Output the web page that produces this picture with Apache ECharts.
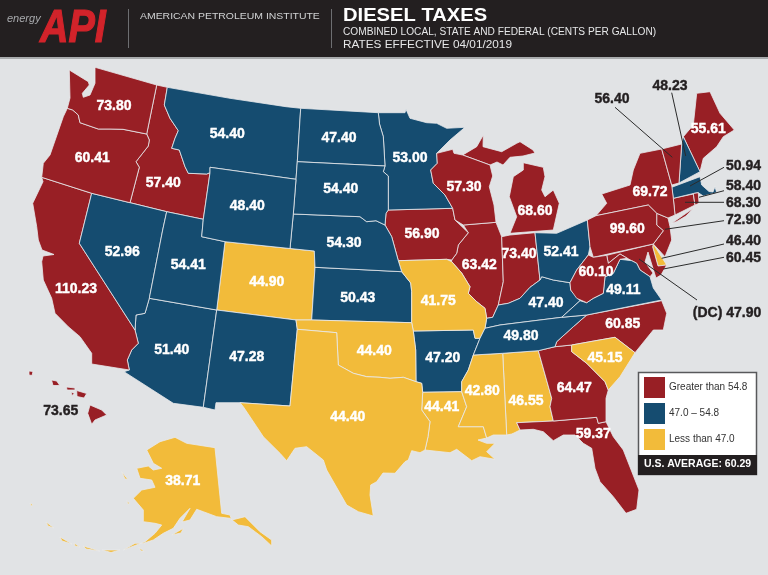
<!DOCTYPE html>
<html>
<head>
    <meta http-equiv="Content-Type" content="text/html; charset=UTF-8" />
    <title>Diesel Taxes</title>
    <script src="https://cdn.jsdelivr.net/npm/echarts@6/dist/echarts.min.js"></script>
    <style>
        html, body { margin: 0; padding: 0; background: #e1e3e5; }
        #main { width: 768px; height: 575px; }
    </style>
</head>
<body>
<div id="main"></div>
<script type="text/javascript">
    // cents per gallon
    var stateNames = ['Alabama','Alaska','Arizona','Arkansas','California','Colorado','Connecticut','Delaware','DC','Florida','Georgia','Hawaii','Idaho','Illinois','Indiana','Iowa','Kansas','Kentucky','Louisiana','Maine','Maryland','Massachusetts','Michigan','Minnesota','Mississippi','Missouri','Montana','Nebraska','Nevada','New Hampshire','New Jersey','New Mexico','New York','North Carolina','North Dakota','Ohio','Oklahoma','Oregon','Pennsylvania','Rhode Island','South Carolina','South Dakota','Tennessee','Texas','Utah','Vermont','Virginia','Washington','West Virginia','Wisconsin','Wyoming'];
    var dieselTax = [46.55,38.71,51.40,47.20,110.23,44.90,68.30,46.40,47.90,59.37,64.47,73.65,57.40,63.42,73.40,56.90,50.43,47.40,44.41,55.61,60.45,50.94,68.60,53.00,42.80,41.75,54.40,54.30,52.96,48.23,72.90,47.28,69.72,60.85,47.40,52.41,44.40,60.41,99.60,58.40,45.15,54.40,49.80,44.40,54.41,56.40,49.11,73.80,60.10,57.30,48.40];
    var outsideLabels = ['Hawaii','Vermont','New Hampshire','Massachusetts','Rhode Island','Connecticut','New Jersey','Delaware','Maryland','DC'];
    var legendLabels = ['Greater than 54.8', '47.0 – 54.8', 'Less than 47.0'];
    var legendBreaks = [47.0, 54.8];
    var usAverage = 60.29;

    var RED = '#981f25', BLUE = '#154c70', YELLOW = '#f2bb3a', INK = '#231f20';
    var FONT = 'Liberation Sans';

    // hand traced state outlines, in page pixels (drawn with an identity projection)
    var shapes = {
        'Washington': {cp:[114,106], rings:[[[69.3,70],[88.3,81.7],[89.3,85],[82.3,93.3],[83.3,97.3],[90,95],[95,83.3],[95,67.3],[156.7,85],[146.7,134],[123,129.3],[110,129],[98.3,129],[80,122.7],[78.3,115],[72.7,110],[67.3,108.3],[70,98]]]},
        'Oregon': {cp:[92.3,157.7], rings:[[[67.3,108.3],[72.7,110],[78.3,115],[80,122.7],[98.3,129],[110,129],[123,129.3],[146.7,134],[149.3,140],[148.3,146],[136,161.7],[139.3,167.3],[130,202.7],[91.7,193.3],[41.7,177.3],[43.3,163.3],[50,155],[63.3,116.7]]]},
        'Idaho': {cp:[163.3,183.3], rings:[[[156.7,85],[167.3,87.3],[164.3,105],[170,118.3],[178.3,130.7],[175,138.3],[171.7,148.3],[179.3,150],[185,166.7],[188.3,173.3],[206.7,174],[210,172.7],[203.3,219.3],[166.7,211.7],[130,202.7],[139.3,167.3],[136,161.7],[148.3,146],[149.3,140],[146.7,134]]]},
        'Montana': {cp:[227.3,134], rings:[[[167.3,87.3],[230,98.3],[286,106.7],[300.7,108.3],[297.3,161.7],[296,179.3],[210,167.3],[210,172.7],[206.7,174],[188.3,173.3],[185,166.7],[179.3,150],[171.7,148.3],[175,138.3],[178.3,130.7],[170,118.3],[164.3,105]]]},
        'Wyoming': {cp:[247.3,205.7], rings:[[[210,167.3],[296,179.3],[293.3,214],[290,248.5],[225,241.7],[201.7,236.7],[203.3,219.3],[210,172.7]]]},
        'North Dakota': {cp:[339,137.7], rings:[[[300.7,108.3],[378.3,112.7],[379.5,124],[383.3,136.7],[385,166],[297.3,161.7]]]},
        'South Dakota': {cp:[340.7,189], rings:[[[297.3,161.7],[385,166],[383.3,171.7],[388.3,176],[388.3,210],[386,213.3],[385,225],[376,220.7],[366.7,221.7],[360,216.7],[293.3,214],[296,179.3]]]},
        'Nebraska': {cp:[344,242.7], rings:[[[293.3,214],[360,216.7],[366.7,221.7],[376,220.7],[385,225],[391.7,236.7],[398.3,260.7],[401.7,271.7],[315,267.3],[314.3,251],[290,248.5]]]},
        'Minnesota': {cp:[410,158.3], rings:[[[378.3,112.7],[405,112.7],[406,109.3],[410,118.3],[426.7,122.7],[436.7,123.3],[446.7,128.3],[465,127.3],[450,140],[436.7,153.3],[437.3,163.3],[430.7,170],[433.3,183.3],[445,195],[452.7,208.3],[388.3,210],[388.3,176],[383.3,171.7],[385,166],[383.3,136.7],[379.5,124]]]},
        'Wisconsin': {cp:[464,186.7], rings:[[[436.7,153.3],[452.7,149.3],[454,153.3],[462.7,155],[490,165],[492.7,176],[489.3,186.7],[494,205],[496,222.3],[463.3,225],[455,220],[452.7,208.3],[445,195],[433.3,183.3],[430.7,170],[437.3,163.3]]]},
        'Michigan': {cp:[535,210.7], rings:[[[462.7,155],[476.7,146.7],[483.3,135],[483,146.7],[501.7,151.7],[516.7,143.3],[520,141.7],[533,150],[535,153],[523,156],[510,157.3],[503,165],[497,162],[490,165]],[[523.3,162.7],[543.3,167.3],[545,176.7],[541.7,190],[545,196.7],[553.3,190],[559.3,203.3],[553.3,230],[510,233.3],[516.7,216.7],[509.3,196.7],[513.3,176.7],[523.3,170]]]},
        'Iowa': {cp:[422,234], rings:[[[386,213.3],[388.3,210],[452.7,208.3],[455,220],[468.3,232.7],[458.3,245],[456.7,253.3],[451.7,260],[446.7,259.3],[398.3,260.7],[391.7,236.7],[385,225]]]},
        'Illinois': {cp:[479.3,265], rings:[[[463.3,225],[496,222.3],[501.7,236.7],[503.3,281.7],[498.3,305],[492.7,317.3],[486.7,318.3],[485,308.3],[476.7,301.7],[468.3,293.3],[470,286.7],[461.7,273],[451.7,261.7],[451.7,260],[456.7,253.3],[458.3,245],[468.3,232.7]]]},
        'Indiana': {cp:[519,254.3], rings:[[[501.7,236.7],[510,235],[535,232.7],[540,280],[530,287.3],[520,298.3],[508.3,303.3],[498.3,305],[503.3,281.7]]]},
        'Ohio': {cp:[561,251.7], rings:[[[535,232.7],[556.7,233.3],[587.3,220],[590,246.7],[588.3,255],[576.7,270],[570,282.7],[553.3,280],[541.7,276.7],[540,280]]]},
        'Pennsylvania': {cp:[627.3,229.3], rings:[[[587.3,220],[596,215.7],[648.3,205],[656.7,213.3],[656.7,225],[663.3,230.7],[653.3,244],[593.3,257.3],[590,246.7]]]},
        'New York': {cp:[650,191.7], rings:[[[596,215.7],[606.7,203.3],[601.7,194],[630,185],[633.3,170],[640,153.3],[661.7,149],[671.7,185],[673.3,198.3],[675,215],[668,218],[656.7,213.3],[648.3,205]],[[671.7,223.3],[693.3,208.3],[686,216],[676.7,221.5]]]},
        'Vermont': {cp:[612,99.5], rings:[[[661.7,149],[681.7,144],[679,183],[671.7,185]]]},
        'New Hampshire': {cp:[670,86], rings:[[[683.3,136.7],[700,171.7],[679,183],[681.7,144]]]},
        'Maine': {cp:[708.3,129.3], rings:[[[683.3,136.7],[693.3,125],[696.7,93.3],[710,91.7],[720,113.3],[734.3,130],[723.3,136.7],[716.7,146.7],[703.3,158.3],[700,171.7]]]},
        'Massachusetts': {cp:[743.5,166], rings:[[[671.7,187.3],[700,176.7],[701.7,185],[709,191.5],[713,192],[715,186.7],[716.7,192.7],[703.3,196],[698.3,192.7],[693.3,193.5],[673.3,198.3]]]},
        'Connecticut': {cp:[743.5,203], rings:[[[673.3,198.3],[693.3,194],[695,205],[675,215]]]},
        'Rhode Island': {cp:[743.5,186], rings:[[[693.3,193.5],[698.3,192.7],[699,203.3],[695,205]]]},
        'New Jersey': {cp:[743.5,220], rings:[[[656.7,213.3],[668,218],[670,226.7],[671.7,240],[665,256.7],[653.3,244],[663.3,230.7],[656.7,225]]]},
        'Delaware': {cp:[743.5,241], rings:[[[653.3,244],[666.7,265],[658,266],[652.7,247]]]},
        'Maryland': {cp:[743.5,258], rings:[[[606.7,255.3],[653.3,244],[652.7,247],[658,266],[666.7,265],[661,275],[656,278],[651,262],[648,252],[645,262],[653,273],[650,276.7],[640,270],[636.7,263.3],[631.7,260.7],[627.3,258.3],[620,254],[608.3,263.3]]]},
        'DC': {cp:[727,313], rings:[[[642.6,259],[641.5,261.5],[639,262.6],[636.5,261.5],[635.4,259],[636.5,256.5],[639,255.4],[641.5,256.5]]]},
        'West Virginia': {cp:[596,272.3], rings:[[[588.3,255],[593.3,257.3],[606.7,255.3],[608.3,263.3],[620,254],[627.3,258.3],[620,259.3],[613.3,273.3],[605,276.7],[603.3,293.3],[593.3,298.3],[586.7,302.7],[576.7,298.3],[570.7,290],[570,282.7],[576.7,270]]]},
        'Virginia': {cp:[623.3,290], rings:[[[561.7,317.3],[580,300.7],[586.7,302.7],[593.3,298.3],[603.3,293.3],[605,276.7],[613.3,273.3],[620,259.3],[631.7,260.7],[636.7,263.3],[640,270],[650,276.7],[653.3,288],[661.7,300],[586.7,315]]]},
        'Kentucky': {cp:[546,303.3], rings:[[[486.7,318.3],[492.7,317.3],[498.3,305],[508.3,303.3],[520,298.3],[530,287.3],[540,280],[541.7,276.7],[553.3,280],[570,282.7],[570.7,290],[580,300.7],[561.7,317.3],[500,325],[485,328.3]]]},
        'Tennessee': {cp:[521,336], rings:[[[485,328.3],[500,325],[561.7,317.3],[586.7,315],[573.3,326.7],[556.7,341.7],[555,346.7],[538.3,350.7],[502.7,353.3],[473.3,355],[480,338.3]]]},
        'North Carolina': {cp:[622.7,324], rings:[[[586.7,315],[661.7,300.7],[666.7,313.3],[663.3,330],[653.3,330],[635,352.7],[615,337.3],[590,341.7],[571.7,345],[555,346.7],[556.7,341.7],[573.3,326.7]]]},
        'South Carolina': {cp:[605,357.7], rings:[[[571.7,345],[590,341.7],[615,337.3],[635,352.7],[620,376.7],[608.3,390],[605,381.7],[586.7,363.3],[571.7,351.7]]]},
        'Georgia': {cp:[574.3,387.7], rings:[[[538.3,350.7],[555,346.7],[571.7,345],[571.7,351.7],[586.7,363.3],[605,381.7],[608.3,390],[606,398.3],[606,421.7],[598.3,423.3],[596.7,417.3],[553.3,421],[550,406.7],[551.7,398.3]]]},
        'Florida': {cp:[593.3,434.3], rings:[[[516.7,422.7],[553.3,421],[596.7,417.3],[598.3,423.3],[606,421.7],[613.3,436.7],[623.3,450],[639,490],[636.7,509.3],[626,513.3],[613.3,496.7],[600,481.7],[595,468.3],[591.7,448.3],[583.3,443.3],[575,435],[563.3,435],[553.3,440.7],[543.3,431.7],[533.3,429.3],[520,430]]]},
        'Alabama': {cp:[526,401], rings:[[[502.7,353.3],[538.3,350.7],[551.7,398.3],[550,406.7],[553.3,421],[516.7,422.7],[520,430],[514,433],[511.7,434],[506.7,435]]]},
        'Mississippi': {cp:[482.3,390.7], rings:[[[473.3,355],[502.7,353.3],[506.7,435],[493.3,435],[486.7,438],[483.3,426.7],[458.3,426.7],[466.7,406.7],[461.7,391.7],[461.7,381.7],[468.3,370]]]},
        'Arkansas': {cp:[442.7,358.3], rings:[[[413.3,331],[473.3,330],[475,338.3],[480,338.3],[473.3,355],[468.3,370],[461.7,381.7],[461.7,391.7],[422.7,392.3],[421.7,383.3],[416,381.7],[415.7,350]]]},
        'Missouri': {cp:[438.3,300.7], rings:[[[398.3,260.7],[446.7,259.3],[451.7,261.7],[461.7,273],[470,286.7],[468.3,293.3],[476.7,301.7],[485,308.3],[486.7,318.3],[485,328.3],[480,338.3],[475,338.3],[473.3,330],[413.3,331],[411.7,322.7],[411.7,291.7],[410.7,283],[401.7,271.7]]]},
        'Kansas': {cp:[357.7,298.3], rings:[[[315,267.3],[401.7,271.7],[410.7,283],[411.7,291.7],[411.7,322.7],[311.7,320]]]},
        'Colorado': {cp:[266.7,281.7], rings:[[[225,241.7],[290,248.5],[314.3,251],[315,267.3],[311.7,320],[296,320],[216.7,310]]]},
        'New Mexico': {cp:[246.7,357.3], rings:[[[216.7,310],[296,320],[297.3,329.3],[290,406],[240,402.7],[216,402.7],[215,410],[203.3,407.3]]]},
        'Arizona': {cp:[171.7,350], rings:[[[149.3,298.3],[216.7,310],[203.3,407.3],[173.3,403.3],[124,371.7],[129.3,370],[127.3,360],[131.7,350],[138.3,343.3],[135,330],[136,315],[145,313.3]]]},
        'Utah': {cp:[188.3,265], rings:[[[166.7,211.7],[203.3,219.3],[201.7,236.7],[225,241.7],[216.7,310],[149.3,298.3],[162.7,230]]]},
        'Nevada': {cp:[122.3,252.3], rings:[[[91.7,193.3],[130,202.7],[166.7,211.7],[162.7,230],[149.3,298.3],[145,313.3],[136,315],[135,330],[79.3,243.3]]]},
        'California': {cp:[76,289.3], rings:[[[41.7,177.3],[91.7,193.3],[79.3,243.3],[135,330],[138.3,343.3],[131.7,350],[127.3,360],[129.3,370],[91.7,364],[91.7,353.3],[80,336.7],[68.3,326.7],[55,313.3],[51.7,298.3],[43.3,280],[41.7,261.7],[43,256],[54,254.5],[42,250],[38.3,240],[36.7,226.7],[32.7,203.3],[43,181.7]]]},
        'Oklahoma': {cp:[374.3,351], rings:[[[296,320],[311.7,320],[411.7,322.7],[413.3,331],[415.7,350],[416,381.7],[403.3,377.3],[390,378.3],[380,377.3],[366.7,376.7],[353.3,373.3],[338.3,365],[336.7,332.7],[297.3,329.3]]]},
        'Texas': {cp:[347.7,416.7], rings:[[[297.3,329.3],[336.7,332.7],[338.3,365],[353.3,373.3],[366.7,376.7],[380,377.3],[390,378.3],[403.3,377.3],[416,381.7],[421.7,383.3],[422.7,392.3],[421.7,410],[430,421.7],[428,436.7],[425,450],[420,452.7],[411.7,450.7],[408.3,460],[405,461.7],[395,473.3],[383,473],[376.7,481.7],[370.7,485],[370,495],[373.3,516],[358.3,511.7],[346.7,505],[340,493.3],[326.7,470],[323.3,460],[306.7,446.7],[295,448.3],[286.7,460.7],[280,453.3],[263.3,436.7],[256.7,426.7],[243.3,406.7],[240,402.7],[290,406]]]},
        'Louisiana': {cp:[441.7,406.7], rings:[[[422.7,392.3],[461.7,391.7],[466.7,406.7],[458.3,426.7],[483.3,426.7],[486.7,438],[478,440],[486.7,443.3],[495,443.3],[486.7,451.7],[495,459.3],[480,456.7],[471.7,460.7],[456.7,449.3],[450,452.7],[425,450],[428,436.7],[430,421.7],[421.7,410]]]},
        'Hawaii': {cp:[60.7,410.7], rings:[[[90,405],[101.7,410],[106.7,415],[95,420],[91.7,424.3],[87.7,413.3]],[[76.7,390.5],[86.7,393.5],[84,398],[77,396.5]],[[66.5,387],[75,388],[75,390],[67,390]],[[71,392],[74.5,393.5],[72,395.5]],[[51.5,380],[56.7,381],[59.8,385.5],[53,385.5]],[[29,371],[33,371.5],[32,375.5],[29,375]]]},
        'Alaska': {cp:[182.7,481], rings:[[[146.7,450],[160,441.7],[175,437.3],[186.7,443.3],[215,447.7],[221.7,513.3],[230,515],[231.7,520],[245,516.7],[260,531.7],[271.7,540],[271.7,546],[261.7,536.7],[248.3,526.7],[238.3,525],[230,518.3],[216.7,516.7],[203.3,511.7],[196.7,509.3],[190,520],[182,522],[190,508.3],[180,518.3],[173.3,528.3],[163.3,533.3],[153.3,540],[143.3,543.3],[135,543.3],[123.3,550],[145,541.7],[155,533.3],[161.7,525],[155,523.3],[143.3,521.7],[143.3,510],[133.3,498.3],[141.7,490],[155,487.3],[151.7,480],[140,478.3],[136.7,468.3],[148.3,466],[153.3,470],[161.7,468.3],[153.3,463.3]],[[121.7,471.7],[127.7,479.3],[125,479]],[[126.7,500.7],[130,503.5],[128,504]],[[171.7,535],[183.3,528.3],[181,533]],[[139,547.5],[144,551],[141,551]],[[30,503],[33,505],[31,506]],[[46,522],[54,528],[48,526]],[[60,537],[72,544],[62,541]],[[74,543],[80,547],[75,546]],[[83,546],[100,551],[86,549]],[[102,550],[120,550],[111,552.5]]]}
    };

    var features = stateNames.map(function (name) {
        var s = shapes[name];
        return {
            type: 'Feature',
            properties: {name: name, cp: s.cp},
            geometry: {type: 'MultiPolygon', coordinates: s.rings.map(function (r) { return [r]; })}
        };
    });
    echarts.registerMap('usa', {type: 'FeatureCollection', features: features});

    var seriesData = stateNames.map(function (name, i) {
        var item = {name: name, value: dieselTax[i]};
        if (outsideLabels.indexOf(name) >= 0) {
            item.label = {color: INK, textBorderColor: INK};
        }
        return item;
    });

    // leader lines: label side first, state side second
    var leaders = [
        [[615,107.3],[672.3,157.3]],
        [[671.7,92.7],[685.7,156]],
        [[724,167.3],[690,186]],
        [[724,190.7],[699,197.3]],
        [[724,202.3],[685,202.3]],
        [[724,220.7],[665,229.3]],
        [[724,244],[661.7,258.3]],
        [[724,257.3],[663.3,269]],
        [[639,259],[697,300]]
    ];

    function headerText(x, y, text, fill, size, weight, scaleX, style) {
        return {
            type: 'text', x: x, y: y, z: 6, scaleX: scaleX || 1,
            style: {text: text, fill: fill, fontFamily: FONT, fontSize: size, fontWeight: weight || 'normal', fontStyle: style || 'normal'}
        };
    }

    var apiMark = headerText(40, 6, 'API', '#d2232a', 47, 'bold', 0.84, 'italic');
    apiMark.style.stroke = '#d2232a';
    apiMark.style.lineWidth = 1.2;

    var graphics = [
        {type: 'rect', shape: {x: 0, y: 0, width: 768, height: 57}, style: {fill: INK}, z: 5},
        {type: 'rect', shape: {x: 0, y: 57, width: 768, height: 2}, style: {fill: '#a9abad'}, z: 5},
        headerText(7, 13, 'energy', '#a7a9ac', 11, 'normal', 1, 'italic'),
        apiMark,
        {type: 'rect', shape: {x: 128, y: 9, width: 1, height: 39}, style: {fill: '#6d6e71'}, z: 6},
        {type: 'rect', shape: {x: 331, y: 9, width: 1, height: 39}, style: {fill: '#6d6e71'}, z: 6},
        headerText(140, 12, 'AMERICAN PETROLEUM INSTITUTE', '#d1d3d4', 9, 'normal', 1.16),
        headerText(343, 7, 'DIESEL TAXES', '#fff', 18, 'bold', 1.12),
        headerText(343, 27, 'COMBINED LOCAL, STATE AND FEDERAL (CENTS PER GALLON)', '#e6e7e8', 10, 'normal', 1.015),
        headerText(343, 40, 'RATES EFFECTIVE 04/01/2019', '#e6e7e8', 10, 'normal', 1.18),
        // legend box
        {type: 'rect', shape: {x: 638.5, y: 372.5, width: 118, height: 102}, style: {fill: '#fff', stroke: '#58595b', lineWidth: 1.5}, z: 3},
        {type: 'rect', shape: {x: 638, y: 455, width: 119, height: 20}, style: {fill: INK}, z: 3},
        {type: 'text', x: 697.5, y: 459, z: 6, style: {text: 'U.S. AVERAGE: ' + usAverage.toFixed(2), fill: '#fff', align: 'center', fontFamily: FONT, fontSize: 10.5, fontWeight: 'bold'}}
    ];
    leaders.forEach(function (l) {
        graphics.push({
            type: 'line', z: 7,
            shape: {x1: l[0][0], y1: l[0][1], x2: l[1][0], y2: l[1][1]},
            style: {stroke: '#2b2b2b', lineWidth: 1}
        });
    });

    var myChart = echarts.init(document.getElementById('main'));
    var option = {
        backgroundColor: '#e1e3e5',
        animation: false,
        tooltip: {show: false},
        visualMap: {
            type: 'piecewise',
            left: 644,
            top: 377,
            padding: 0,
            align: 'left',
            itemWidth: 21,
            itemHeight: 21,
            itemGap: 5,
            itemSymbol: 'rect',
            textGap: 4,
            selectedMode: false,
            hoverLink: false,
            seriesIndex: 0,
            z: 5,
            textStyle: {color: '#333', fontSize: 10, fontFamily: FONT},
            pieces: [
                {gt: legendBreaks[1], label: legendLabels[0], color: RED},
                {gte: legendBreaks[0], lte: legendBreaks[1], label: legendLabels[1], color: BLUE},
                {lt: legendBreaks[0], label: legendLabels[2], color: YELLOW}
            ]
        },
        series: [{
            type: 'map',
            map: 'usa',
            roam: false,
            silent: true,
            left: 0,
            top: 0,
            width: 768,
            height: 575,
            boundingCoords: [[0, 0], [768, 575]],
            projection: {
                project: function (p) { return p; },
                unproject: function (p) { return p; }
            },
            showLegendSymbol: false,
            itemStyle: {borderColor: '#e8eaec', borderWidth: 0.8},
            label: {
                show: true,
                color: '#fff',
                fontFamily: FONT,
                fontWeight: 'bold',
                fontSize: 14,
                textBorderColor: '#fff',
                textBorderWidth: 0.4,
                formatter: function (p) {
                    var txt = p.value.toFixed(2);
                    return p.name === 'DC' ? '(DC) ' + txt : txt;
                }
            },
            data: seriesData
        }],
        graphic: graphics
    };
    myChart.setOption(option);
</script>
</body>
</html>
